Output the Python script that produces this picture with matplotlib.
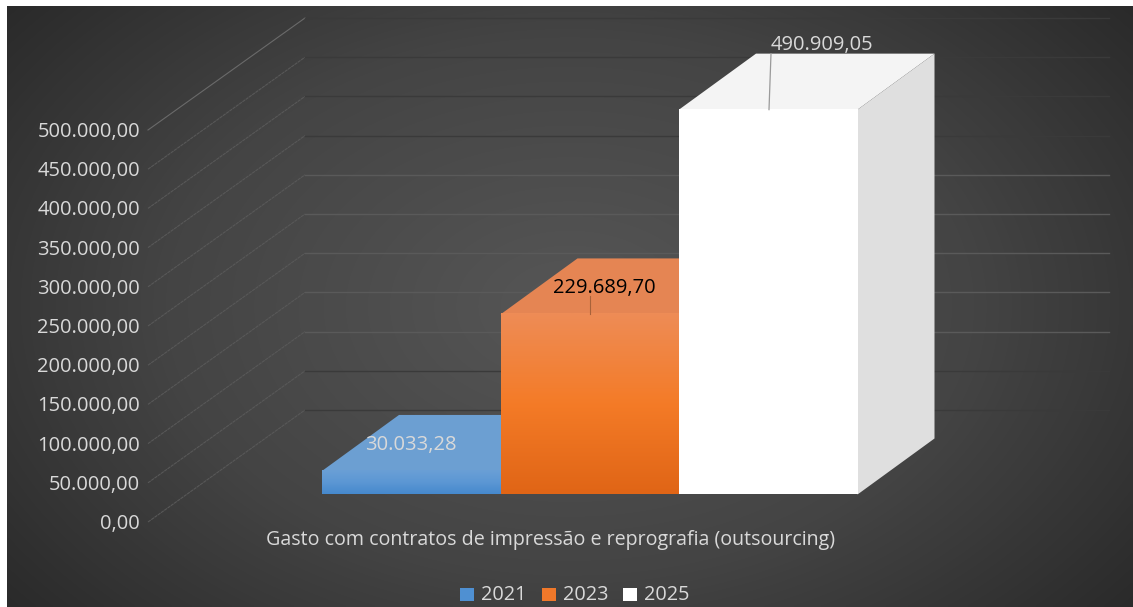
"""Gasto com contratos de impressão e reprografia - 3D style column chart."""

import matplotlib
matplotlib.use("Agg")
import matplotlib.pyplot as plt
import numpy as np
from matplotlib.colors import LinearSegmentedColormap
from matplotlib.patches import Polygon, Rectangle

plt.rcParams["font.family"] = ["Open Sans", "DejaVu Sans"]

# data
years = ["2021", "2023", "2025"]
values = [30033.28, 229689.70, 490909.05]
value_labels = ["30.033,28", "229.689,70", "490.909,05"]
y_ticks = [0, 50000, 100000, 150000, 200000, 250000, 300000, 350000, 400000, 450000, 500000]
y_tick_labels = ["0,00", "50.000,00", "100.000,00", "150.000,00", "200.000,00", "250.000,00",
                 "300.000,00", "350.000,00", "400.000,00", "450.000,00", "500.000,00"]
category = "Gasto com contratos de impressão e reprografia (outsourcing)"

# styles
front_colors = [("#6a9fd6", "#4689cd"), ("#ee8c56", "#e06516"), ("#ffffff", "#ffffff")]
mid_colors = ["#5c97d4", "#f47b27", "#ffffff"]
top_colors = ["#6c9fd2", "#e58553", "#f4f4f4"]
legend_colors = ["#4f90d2", "#f0782a", "#ffffff"]
text_color = "#d9d9d9"

W, H = 1133, 607
PX_PER_VALUE = 0.784 / 1000
PX_PER_CAT = 178.5
BASE_X, BASE_Y = 322, 494.5


def xd(px):
    """pixel x -> category units"""
    return (px - BASE_X) / PX_PER_CAT


def yd(px):
    """pixel y -> value units"""
    return (BASE_Y - px) / PX_PER_VALUE


def dyd(px):
    """upward pixel distance -> value units"""
    return px / PX_PER_VALUE


fig = plt.figure(figsize=(W / 100, H / 100), dpi=100, facecolor="white")
ax = fig.add_axes([0, 0, 1, 1])
ax.axis("off")

# background radial gradient
gx, gy = np.meshgrid(np.linspace(0, 1, 300), np.linspace(0, 1, 200))
dist = np.sqrt(((gx - 0.5) / 0.72) ** 2 + ((gy - 0.5) / 0.9) ** 2)
bg_cmap = LinearSegmentedColormap.from_list("bg", ["#565656", "#444444", "#232323"])
ax.imshow(dist, cmap=bg_cmap, vmin=0, vmax=1, aspect="auto", interpolation="bilinear",
          extent=[xd(7), xd(W), yd(H), yd(6)], origin="lower", zorder=0)

# walls: back plane and left plane offsets from the bar plane
back_dx, back_dy = xd(305), dyd(84.5)
left_dx, left_dy = xd(148), dyd(-27.5)
right_end = xd(1109)
for v in y_ticks:
    bright = 100000 <= v <= 300000
    ax.plot([left_dx, back_dx], [v + left_dy, v + back_dy], color="#6a6a6a" if v == 500000 else "#585858",
            lw=0.8, ls=(0, (3, 0.6)) if v < 500000 else "-", zorder=1)
    ax.plot([back_dx, right_end], [v + back_dy, v + back_dy], color="#5a5a5a" if bright else "#3a3a3a",
            lw=1.0, zorder=1)

# bars, back to front left to right
depth_x, depth_y = 77 / PX_PER_CAT, dyd(56)
for i, v in enumerate(values):
    ax.add_patch(Polygon([(i, v), (i + depth_x, v + depth_y), (i + 1 + depth_x, v + depth_y), (i + 1, v)],
                         closed=True, facecolor=top_colors[i], edgecolor="none", zorder=2 + i))
    if i == len(values) - 1:
        ax.add_patch(Polygon([(i + 1, 0), (i + 1 + depth_x, depth_y), (i + 1 + depth_x, v + depth_y), (i + 1, v)],
                             closed=True, facecolor="#dfdfdf", edgecolor="none", zorder=2 + i))
    cmap = LinearSegmentedColormap.from_list("bar%d" % i, [front_colors[i][1], mid_colors[i], front_colors[i][0]])
    grad = np.linspace(0, 1, 128).reshape(-1, 1)
    ax.imshow(grad, cmap=cmap, aspect="auto", extent=[i, i + 1, 0, v], origin="lower", zorder=2.5 + i)

# leader lines for data labels
ax.plot([xd(590), xd(590)], [values[1], values[1] + dyd(18)], color="#a8623a", lw=0.8, zorder=6)
ax.plot([xd(769), xd(771)], [values[2], values[2] + dyd(56)], color="#9a9a9a", lw=0.9, zorder=6)

# y tick labels
for v, lab in zip(y_ticks, y_tick_labels):
    ax.text(xd(140), v + dyd(-28) + dyd(-1.5), lab, color=text_color, fontsize=14.5, ha="right", va="center", zorder=7)

# data labels
label_pos = [(411, 445), (604, 288), (822, 45)]
label_colors = [text_color, "#000000", text_color]
for lab, (px, py), c in zip(value_labels, label_pos, label_colors):
    ax.text(xd(px), yd(py), lab, color=c, fontsize=14.5, ha="center", va="center", zorder=7)

# category label
ax.text(xd(551), yd(540.5), category, color=text_color, fontsize=14.1, ha="center", va="center", zorder=7)

# legend
legend_x = [460, 542, 623]
for year, px, c in zip(years, legend_x, legend_colors):
    ax.add_patch(Rectangle((xd(px), yd(601)), 14 / PX_PER_CAT, dyd(13), facecolor=c, edgecolor="none", zorder=7))
    ax.text(xd(px + 21), yd(594.5), year, color=text_color, fontsize=14.3, ha="left", va="center", zorder=7)

ax.set_xlim(xd(0), xd(W))
ax.set_ylim(yd(H), yd(0))
fig.savefig("out.png", dpi=100)
plt.close(fig)
